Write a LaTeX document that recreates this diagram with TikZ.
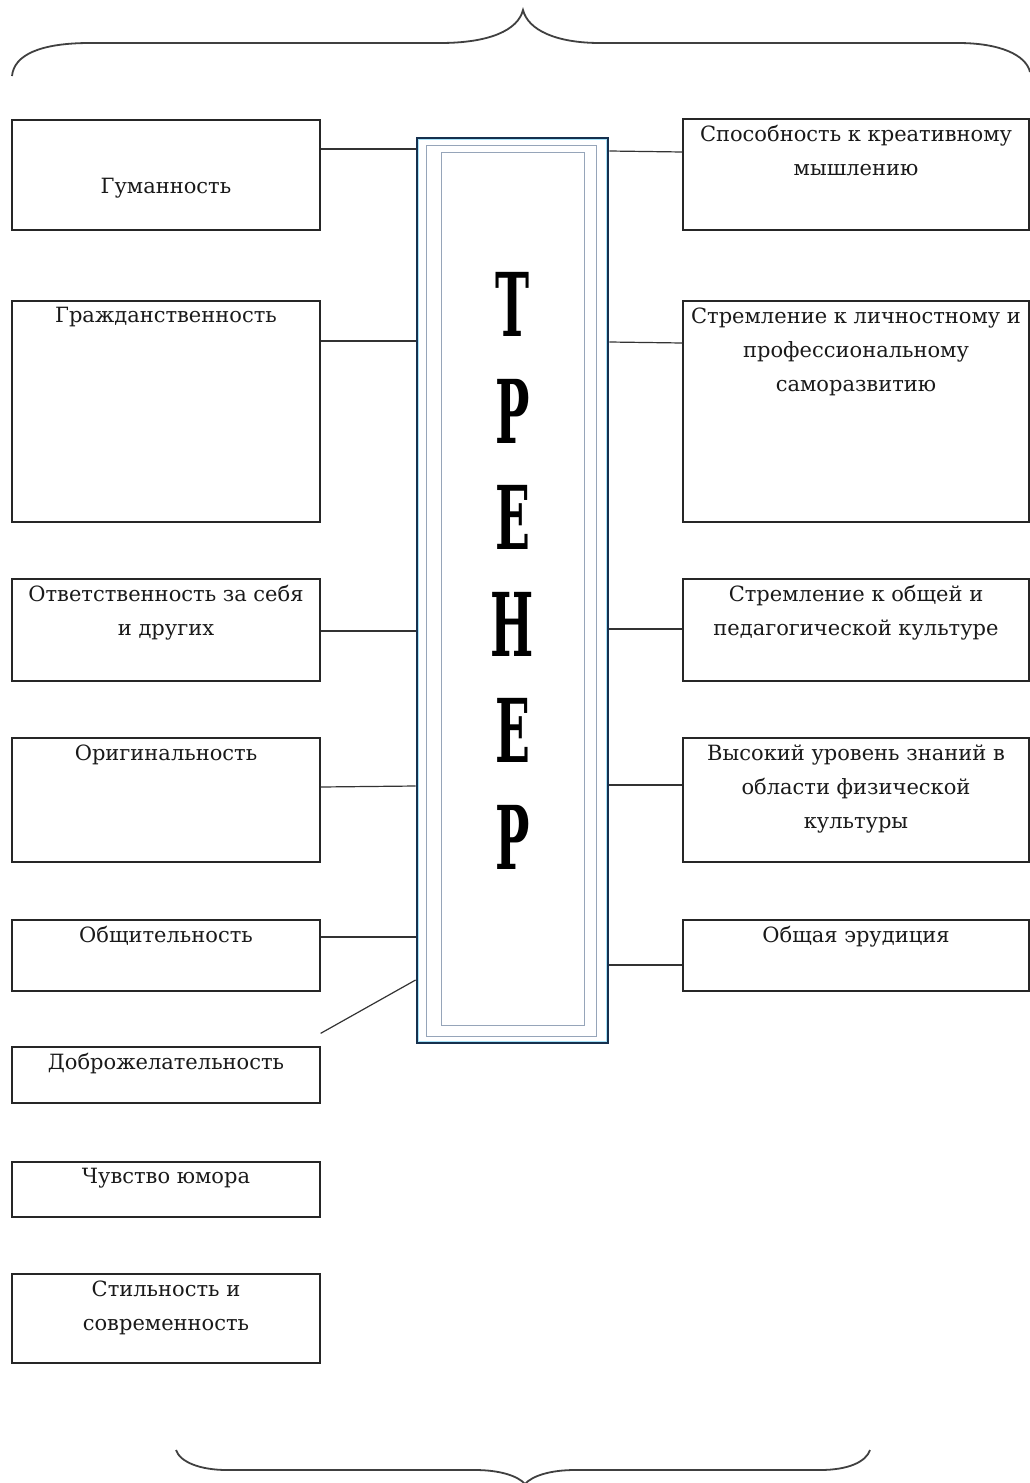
\documentclass[tikz,border=0pt]{standalone}
\usepackage{fontspec}
\setmainfont{DejaVu Serif}
\newfontfamily\letterfont[FakeStretch=0.52]{DejaVu Serif}
\usetikzlibrary{positioning}
\definecolor{frameblue}{RGB}{22,48,78}
\definecolor{framegray}{RGB}{150,165,185}
\begin{document}
\begin{tikzpicture}[x=1pt,y=-1pt,
    qbox/.style={draw=black!85,line width=1.3pt,minimum width=308pt,inner sep=0pt},
    rbox/.style={qbox,minimum width=346pt},
    qtext/.style={align=center,inner sep=0pt,text=black!90,font=\fontsize{21}{34}\selectfont},
    link/.style={draw=black!80,line width=1.2pt},
    brace/.style={draw=black!75,line width=1.8pt}]
    \useasboundingbox (0,0) rectangle (1030,1483);

    % Trainer %
    \node[draw=frameblue,line width=2.8pt,minimum width=191pt,minimum height=905pt,inner sep=0pt] (trainer) at (512.5,590.5) {};
    \draw[cyan!35,line width=1.5pt] ([shift={(2.8,2.8)}]trainer.north west) rectangle ([shift={(-2.8,-2.8)}]trainer.south east);
    \draw[framegray,line width=1.5pt] ([shift={(11,9)}]trainer.north west) rectangle ([shift={(-13,-8)}]trainer.south east);
    \draw[framegray,line width=1.5pt] ([shift={(26,16)}]trainer.north west) rectangle ([shift={(-25,-19)}]trainer.south east);
    \node[font=\letterfont\bfseries\fontsize{88}{106.5}\selectfont,align=center,inner sep=0pt] (word) at ([yshift=19.5pt]trainer.center) {Т\\Р\\Е\\Н\\Е\\Р};

    % Left qualities %
    \node[qbox,minimum height=110pt] (gum) at (166,175) {};
    \node[qtext] at ([yshift=-13pt]gum.center) {Гуманность};
    \node[qbox,minimum height=221pt] (grazh) at (166,411.5) {};
    \node[qtext,below=7pt of grazh.north] {Гражданственность};
    \node[qbox,minimum height=102pt] (otv) at (166,630) {};
    \node[qtext,below=7pt of otv.north] {Ответственность за себя\\и других};
    \node[qbox,minimum height=124pt] (orig) at (166,800) {};
    \node[qtext,below=7pt of orig.north] {Оригинальность};
    \node[qbox,minimum height=71pt] (obsh) at (166,955.5) {};
    \node[qtext,below=7pt of obsh.north] {Общительность};
    \node[qbox,minimum height=56pt] (dobr) at (166,1075) {};
    \node[qtext,below=7pt of dobr.north] {Доброжелательность};
    \node[qbox,minimum height=55pt] (humor) at (166,1189.5) {};
    \node[qtext,below=7pt of humor.north] {Чувство юмора};
    \node[qbox,minimum height=89pt] (stil) at (166,1318.5) {};
    \node[qtext,below=7pt of stil.north] {Стильность и\\современность};

    % Right qualities %
    \node[rbox,minimum height=111pt] (kreat) at (856,174.5) {};
    \node[qtext,below=7pt of kreat.north] {Способность к креативному\\мышлению};
    \node[rbox,minimum height=221pt] (samor) at (856,411.5) {};
    \node[qtext,below=7pt of samor.north] {Стремление к личностному и\\профессиональному\\саморазвитию};
    \node[rbox,minimum height=102pt] (kult) at (856,630) {};
    \node[qtext,below=7pt of kult.north] {Стремление к общей и\\педагогической культуре};
    \node[rbox,minimum height=124pt] (znan) at (856,800) {};
    \node[qtext,below=7pt of znan.north] {Высокий уровень знаний в\\области физической\\культуры};
    \node[rbox,minimum height=71pt] (erud) at (856,955.5) {};
    \node[qtext,below=7pt of erud.north] {Общая эрудиция};

    % Links %
    \draw[link] (gum.east |- 0,149) -- (trainer.west |- 0,149);
    \draw[link] (grazh.east |- 0,341) -- (trainer.west |- 0,341);
    \draw[link] (otv.east |- 0,631) -- (trainer.west |- 0,631);
    \draw[link] (orig.east |- 0,787) -- (trainer.west |- 0,786);
    \draw[link] (obsh.east |- 0,937) -- (trainer.west |- 0,937);
    \draw[link] ([yshift=13pt]dobr.north east) -- (trainer.west |- 0,980);
    \draw[link] (trainer.east |- 0,151) -- (kreat.west |- 0,152);
    \draw[link] (trainer.east |- 0,342) -- (samor.west |- 0,343);
    \draw[link] (trainer.east |- 0,629) -- (kult.west |- 0,629);
    \draw[link] (trainer.east |- 0,785) -- (znan.west |- 0,785);
    \draw[link] (trainer.east |- 0,965) -- (erud.west |- 0,965);

    % Braces %
    \draw[brace] (12,76) .. controls (14,55) and (40,43) .. (90,43) -- (440,43) .. controls (490,43) and (518,30) .. (523,10) .. controls (528,30) and (556,43) .. (600,43) -- (958,43) .. controls (1000,43) and (1026,55) .. (1030,72);
    \draw[brace] (176,1450) .. controls (180,1462) and (200,1470) .. (227,1470) -- (475,1470) .. controls (500,1470) and (518,1476) .. (525,1484) .. controls (532,1476) and (550,1470) .. (575,1470) -- (820,1470) .. controls (848,1470) and (866,1462) .. (870,1450);
\end{tikzpicture}
\end{document}
